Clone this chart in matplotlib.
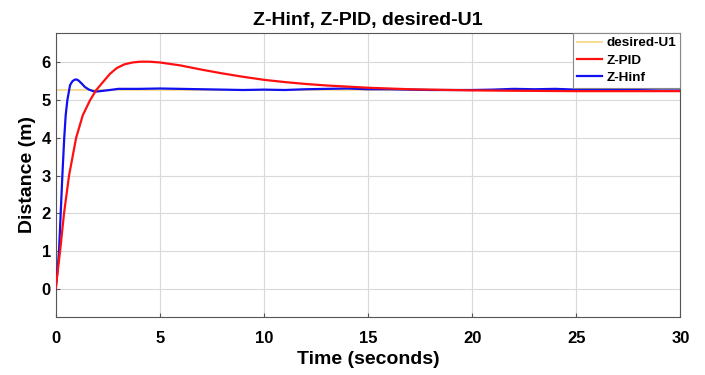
import numpy as np
import matplotlib.pyplot as plt

plt.rcParams['font.family'] = ['Liberation Sans', 'DejaVu Sans']
plt.rcParams['font.weight'] = 'bold'

# desired set point
t_des = [0, 30]
z_des = [5.27, 5.27]

# Z-PID response
t_pid = [0, 0.1, 0.21, 0.4, 0.64, 0.98, 1.3, 1.65, 1.95, 2.3, 2.61, 2.93, 3.3, 3.7, 4.05, 4.5,
         5, 6, 7, 8, 9, 10, 11, 12, 13, 14, 15, 16, 17, 18, 20, 22, 25, 30]
z_pid = [0, 0.48, 1.0, 2.0, 3.0, 4.0, 4.6, 5.0, 5.27, 5.5, 5.7, 5.85, 5.95, 6.0, 6.02, 6.02,
         6.0, 5.92, 5.81, 5.71, 5.62, 5.54, 5.48, 5.43, 5.39, 5.36, 5.33, 5.31, 5.29,
         5.28, 5.26, 5.25, 5.24, 5.24]

# Z-Hinf response
t_hinf = [0, 0.08, 0.16, 0.24, 0.32, 0.41, 0.48, 0.56, 0.69, 0.8, 0.9, 1.0, 1.1, 1.25,
          1.4, 1.6, 1.8, 1.97, 2.3, 2.6, 3, 4, 5, 6, 7, 8, 9, 10, 11, 12, 13, 14, 15,
          16, 17, 18, 19, 20, 21, 22, 23, 24, 25, 26, 27, 28, 29, 30]
z_hinf = [0, 0.45, 1.0, 2.0, 3.0, 4.0, 4.6, 5.0, 5.4, 5.5, 5.54, 5.55, 5.52, 5.44,
          5.35, 5.28, 5.24, 5.23, 5.25, 5.27, 5.3, 5.3, 5.31, 5.3, 5.29, 5.28, 5.27,
          5.28, 5.27, 5.29, 5.3, 5.31, 5.29, 5.29, 5.28, 5.27, 5.27, 5.27, 5.28, 5.3,
          5.29, 5.3, 5.28, 5.27, 5.28, 5.3, 5.31, 5.31]

fig = plt.figure(figsize=(7.05, 3.75), dpi=100)
ax = fig.add_axes([0.079, 0.155, 0.886, 0.757])

l_des, = ax.plot(t_des, z_des, color='#f7d98b', lw=1.3, zorder=2)
l_hinf, = ax.plot(t_hinf, z_hinf, color='#1010f0', lw=1.6, zorder=3)
l_pid, = ax.plot(t_pid, z_pid, color='#ff1010', lw=1.6, zorder=4)

ax.set_xlim(0, 30)
ax.set_ylim(-0.74, 6.78)
ax.set_xticks(range(0, 31, 5))
ax.set_yticks(range(0, 7))
ax.grid(True, color='#d9d9d9', lw=0.8)
ax.set_axisbelow(True)
ax.tick_params(direction='in', length=3, labelsize=12, color='#555555')
ax.tick_params(axis='x', pad=10)
for s in ax.spines.values():
    s.set_color('#555555')
    s.set_linewidth(0.8)

ax.set_xlabel('Time (seconds)', fontsize=14, fontweight='bold', labelpad=4)
ax.set_ylabel('Distance (m)', fontsize=14, fontweight='bold', labelpad=4)
ax.set_title('Z-Hinf, Z-PID, desired-U1', fontsize=14, fontweight='bold', pad=6)

leg = ax.legend([l_des, l_pid, l_hinf], ['desired-U1', 'Z-PID', 'Z-Hinf'],
                loc='upper right', fontsize=9.7, fancybox=False, framealpha=1,
                edgecolor='#888888', borderaxespad=0, handlelength=1.9,
                handletextpad=0.3, labelspacing=0.35, borderpad=0.3)
leg.get_frame().set_linewidth(0.8)

plt.savefig('out.png', dpi=100)
